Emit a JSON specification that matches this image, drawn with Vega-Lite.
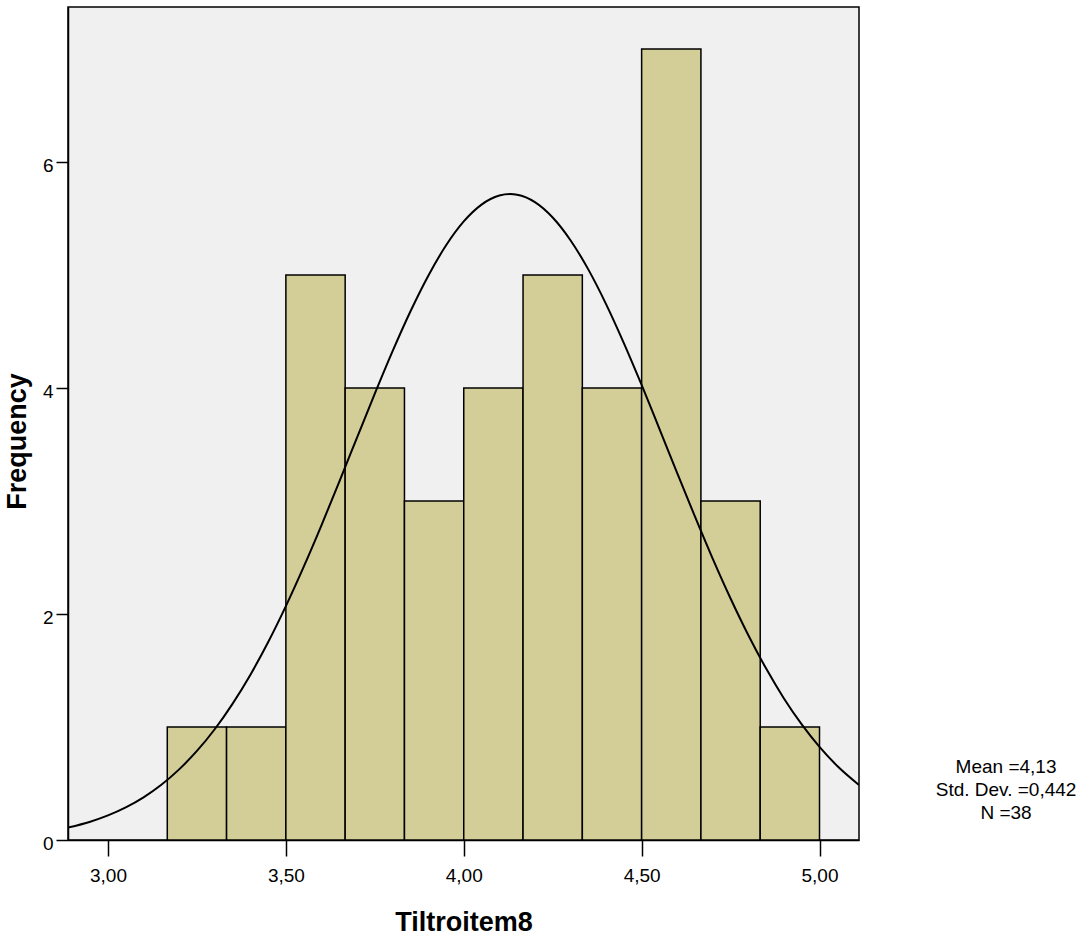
{
  "$schema": "https://vega.github.io/schema/vega-lite/v6.json",
  "autosize": "none",
  "width": 791,
  "height": 833,
  "padding": {"left": 68, "top": 7, "right": 230, "bottom": 97},
  "background": "white",
  "config": {
    "view": {"fill": "#F0F0F0", "stroke": "black", "strokeWidth": 1.5},
    "font": "Liberation Sans",
    "axis": {
      "grid": false,
      "domainColor": "black",
      "domainWidth": 1.5,
      "tickColor": "black",
      "tickWidth": 1.5,
      "labelColor": "black",
      "labelFont": "Liberation Sans",
      "labelFontSize": 19,
      "titleFont": "Liberation Sans",
      "titleFontSize": 27,
      "titleFontWeight": "bold",
      "titleColor": "black"
    }
  },
  "datasets": {
    "bins": [
      {"bin_start": 3.16667, "bin_end": 3.33333, "count": 1},
      {"bin_start": 3.33333, "bin_end": 3.5, "count": 1},
      {"bin_start": 3.5, "bin_end": 3.66667, "count": 5},
      {"bin_start": 3.66667, "bin_end": 3.83333, "count": 4},
      {"bin_start": 3.83333, "bin_end": 4.0, "count": 3},
      {"bin_start": 4.0, "bin_end": 4.16667, "count": 4},
      {"bin_start": 4.16667, "bin_end": 4.33333, "count": 5},
      {"bin_start": 4.33333, "bin_end": 4.5, "count": 4},
      {"bin_start": 4.5, "bin_end": 4.66667, "count": 7},
      {"bin_start": 4.66667, "bin_end": 4.83333, "count": 3},
      {"bin_start": 4.83333, "bin_end": 5.0, "count": 1}
    ],
    "curve": [
      {"x": 2.8876, "y": 0.110},
      {"x": 2.95, "y": 0.162},
      {"x": 3.00, "y": 0.218},
      {"x": 3.05, "y": 0.289},
      {"x": 3.10, "y": 0.378},
      {"x": 3.15, "y": 0.489},
      {"x": 3.20, "y": 0.625},
      {"x": 3.25, "y": 0.788},
      {"x": 3.30, "y": 0.980},
      {"x": 3.35, "y": 1.205},
      {"x": 3.40, "y": 1.461},
      {"x": 3.45, "y": 1.750},
      {"x": 3.50, "y": 2.070},
      {"x": 3.55, "y": 2.417},
      {"x": 3.60, "y": 2.785},
      {"x": 3.65, "y": 3.170},
      {"x": 3.70, "y": 3.561},
      {"x": 3.75, "y": 3.950},
      {"x": 3.80, "y": 4.326},
      {"x": 3.85, "y": 4.677},
      {"x": 3.90, "y": 4.992},
      {"x": 3.95, "y": 5.261},
      {"x": 4.00, "y": 5.474},
      {"x": 4.05, "y": 5.623},
      {"x": 4.10, "y": 5.703},
      {"x": 4.13, "y": 5.716},
      {"x": 4.15, "y": 5.710},
      {"x": 4.20, "y": 5.645},
      {"x": 4.25, "y": 5.509},
      {"x": 4.30, "y": 5.308},
      {"x": 4.35, "y": 5.050},
      {"x": 4.40, "y": 4.743},
      {"x": 4.45, "y": 4.398},
      {"x": 4.50, "y": 4.027},
      {"x": 4.55, "y": 3.639},
      {"x": 4.60, "y": 3.247},
      {"x": 4.65, "y": 2.861},
      {"x": 4.70, "y": 2.488},
      {"x": 4.75, "y": 2.137},
      {"x": 4.80, "y": 1.812},
      {"x": 4.85, "y": 1.517},
      {"x": 4.90, "y": 1.253},
      {"x": 4.95, "y": 1.023},
      {"x": 5.00, "y": 0.824},
      {"x": 5.05, "y": 0.655},
      {"x": 5.111, "y": 0.487}
    ],
    "stats": [{"label": "stats"}]
  },
  "layer": [
    {
      "data": {"name": "bins"},
      "mark": {"type": "rect", "fill": "#D3CE97", "stroke": "black", "strokeWidth": 1.5},
      "encoding": {
        "x": {
          "field": "bin_start",
          "type": "quantitative",
          "scale": {"domain": [2.8876, 5.111], "nice": false, "zero": false},
          "axis": {
            "title": "Tiltroitem8",
            "values": [3, 3.5, 4, 4.5, 5],
            "labelExpr": "replace(format(datum.value, '.2f'), '.', ',')",
            "tickSize": 16,
            "labelPadding": 10,
            "titleY": 90,
            "titleBaseline": "alphabetic"
          }
        },
        "x2": {"field": "bin_end"},
        "y": {
          "field": "count",
          "type": "quantitative",
          "scale": {"domain": [0, 7.372], "nice": false},
          "axis": {
            "title": "Frequency",
            "values": [0, 2, 4, 6],
            "format": "d",
            "tickSize": 12,
            "labelPadding": 3,
            "labelOffset": 3,
            "titleX": -43,
            "titleY": 434,
            "titleAngle": -90,
            "titleAlign": "center",
            "titleBaseline": "alphabetic"
          }
        },
        "y2": {"datum": 0}
      }
    },
    {
      "data": {"name": "curve"},
      "mark": {"type": "line", "color": "black", "strokeWidth": 2, "interpolate": "monotone", "clip": true},
      "encoding": {
        "x": {"field": "x", "type": "quantitative"},
        "y": {"field": "y", "type": "quantitative"}
      }
    },
    {
      "data": {"name": "stats"},
      "mark": {
        "type": "text",
        "text": ["Mean =4,13", "Std. Dev. =0,442", "N =38"],
        "align": "center",
        "baseline": "alphabetic",
        "lineHeight": 23,
        "fontSize": 19,
        "font": "Liberation Sans",
        "color": "black"
      },
      "encoding": {
        "x": {"datum": 5.5243, "type": "quantitative"},
        "y": {"datum": 0.593, "type": "quantitative"}
      }
    }
  ]
}
